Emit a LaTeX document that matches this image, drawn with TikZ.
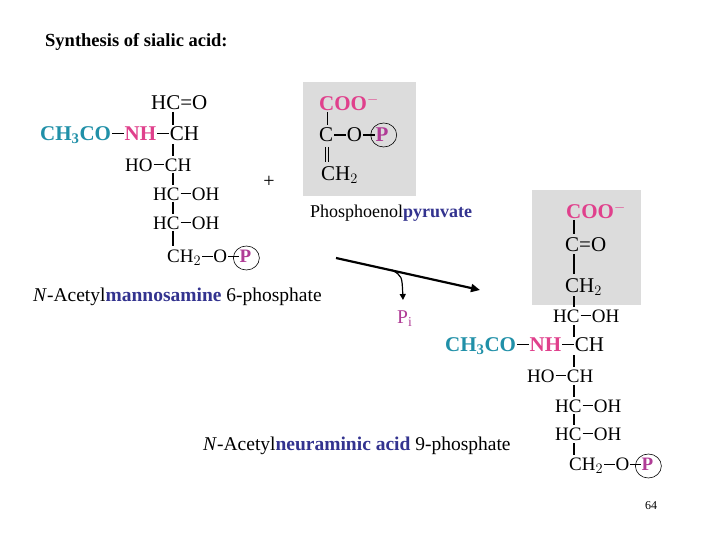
\documentclass[tikz,border=0pt]{standalone}
\usepackage{fontspec}
\setmainfont{Liberation Serif}
\usetikzlibrary{arrows.meta}
\definecolor{cy}{HTML}{2090A8}
\definecolor{mg}{HTML}{E0408C}
\definecolor{pp}{HTML}{B03C96}
\definecolor{nv}{HTML}{33338F}
\definecolor{gb}{HTML}{DCDCDC}
\newcommand{\bnd}{\kern0.05em\rule[0.3em]{0.55em}{0.06em}\kern0.05em}
\tikzset{
 big/.style={anchor=west,inner sep=0pt,font=\fontsize{21}{22}\selectfont},
 sml/.style={anchor=west,inner sep=0pt,font=\fontsize{19}{20}\selectfont},
 lbl/.style={anchor=west,inner sep=0pt,font=\fontsize{19.5}{22}\selectfont},
 bond/.style={line width=1.6pt},
 pcirc/.style={line width=0.6pt}
}
\begin{document}
\begin{tikzpicture}[x=1pt,y=-1pt]
\useasboundingbox[fill=white] (0,0) rectangle (720,540);
\node[anchor=west,inner sep=0pt,font=\fontsize{18.5}{20}\selectfont\bfseries] (title) at (45,42) {Synthesis of sialic acid:};
% left structure
\node[big] (l1) at (151,103) {HC=O};
\node[big] (l2) at (40,135) {\textcolor{cy}{\textbf{CH$_\mathbf{3}$CO}}\bnd\textcolor{mg}{\textbf{NH}}\bnd CH};
\node[sml] (l3) at (125,165) {HO\bnd CH};
\node[sml] (l4) at (153,194) {HC\bnd OH};
\node[sml] (l5) at (153,223) {HC\bnd OH};
\node[sml] (l6) at (167,258) {CH$_2$\bnd O\bnd\textcolor{pp}{\textbf{P}}};
\draw[pcirc] (l6.east)+(-5,0) ellipse (13 and 12);
\foreach \a/\b in {112/125,144/156,173/185,202/214,231/246} \draw[bond] (173,\a) -- (173,\b);
% PEP
\fill[gb] (303,82) rectangle (416,196);
\node[big] (p1) at (319,103) {\textcolor{mg}{\textbf{COO$^{\mathbf{-}}$}}};
\node[big] (p2) at (319,135) {C\bnd O\bnd\textcolor{pp}{\textbf{P}}};
\draw[pcirc] (p2.east)+(-5,0) ellipse (13 and 12);
\node[big] (p3) at (321,175) {CH$_2$};
\draw[line width=0.8pt] (327,112) -- (327,125);
\draw[line width=0.6pt] (325.5,147) -- (325.5,162) (328.5,147) -- (328.5,162);
\node[font=\fontsize{20}{20}\selectfont] (plus) at (269,182) {+};
\node[lbl,font=\fontsize{18}{20}\selectfont] (pepl) at (310,213) {Phosphoenol\textcolor{nv}{\textbf{pyruvate}}};
\node[lbl] (manl) at (33,297) {\textit{N}-Acetyl\textcolor{nv}{\textbf{mannosamine}} 6-phosphate};
% arrow
\coordinate (as) at (336,258);
\coordinate (ae) at (480,290);
\draw[line width=2.2pt,-{Triangle[length=9pt,width=8pt]}] (as) -- (ae);
\coordinate (br) at (392,270);
\coordinate (pe) at (403,300);
\draw[line width=1.2pt,-{Triangle[length=6pt,width=6pt]}] (br) .. controls (402,276) .. (pe);
\node[lbl,text=pp] (pi) at (397,319) {P$_\mathrm{i}$};
% right structure
\fill[gb] (532,190) rectangle (641,305);
\node[big] (r1) at (566,211) {\textcolor{mg}{\textbf{COO$^{\mathbf{-}}$}}};
\node[big] (r2) at (565,245) {C=O};
\node[big] (r3) at (565,287) {CH$_2$};
\node[sml] (r4) at (553,316) {HC\bnd OH};
\node[big] (r5) at (445,346) {\textcolor{cy}{\textbf{CH$_\mathbf{3}$CO}}\bnd\textcolor{mg}{\textbf{NH}}\bnd CH};
\node[sml] (r6) at (527,376) {HO\bnd CH};
\node[sml] (r7) at (555,406) {HC\bnd OH};
\node[sml] (r8) at (555,434) {HC\bnd OH};
\node[sml] (r9) at (569,466) {CH$_2$\bnd O\bnd\textcolor{pp}{\textbf{P}}};
\draw[pcirc] (r9.east)+(-5,0) ellipse (13 and 12);
\foreach \a/\b in {220/234,254/274,296/307,325/337,355/367,385/397,414/425,443/455} \draw[bond] (574,\a) -- (574,\b);
\node[lbl] (neul) at (203,446) {\textit{N}-Acetyl\textcolor{nv}{\textbf{neuraminic acid}} 9-phosphate};
\node[font=\fontsize{12}{12}\selectfont] (pg) at (651,506) {64};
\end{tikzpicture}
\end{document}
